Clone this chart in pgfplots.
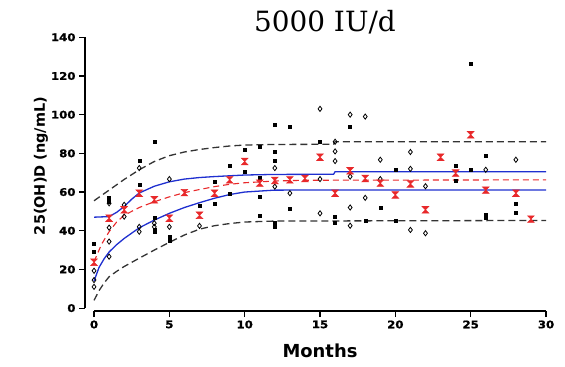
\documentclass[border=0pt]{standalone}
\usepackage{pgfplots}
\pgfplotsset{compat=1.18}
\usepackage{fontspec}
\setmainfont{DejaVu Sans}
\newfontfamily\tickfont[FakeStretch=1.12, BoldFeatures={FakeBold=1.2}]{DejaVu Sans}
\newfontfamily\titlefont{DejaVu Serif}
\definecolor{mred}{HTML}{E8282A}
\definecolor{mblue}{HTML}{1F2FD0}
\definecolor{mdash}{HTML}{333333}
\pgfdeclareplotmark{hourglass}{%
  \pgfpathmoveto{\pgfqpoint{-\pgfplotmarksize}{\pgfplotmarksize}}%
  \pgfpathlineto{\pgfqpoint{\pgfplotmarksize}{\pgfplotmarksize}}%
  \pgfpathlineto{\pgfqpoint{-\pgfplotmarksize}{-\pgfplotmarksize}}%
  \pgfpathlineto{\pgfqpoint{\pgfplotmarksize}{-\pgfplotmarksize}}%
  \pgfpathclose
  \pgfusepathqfillstroke
}
\begin{document}
\begin{tikzpicture}
\useasboundingbox (0,0) rectangle (565bp,367bp);
\begin{axis}[
  at={(85bp,56bp)}, anchor=south west,
  scale only axis, width=461bp, height=273.7bp,
  xmin=-0.6, xmax=30, ymin=-1.5, ymax=140,
  axis lines*=left,
  axis line style={draw=none},
  xtick={0,5,10,15,20,25,30},
  ytick={0,20,40,60,80,100,120,140},
  tick align=outside, major tick length=6bp,
  tick style={black, line width=1.1bp},
  /pgf/number format/assume math mode=true,
  tick label style={font=\tickfont\bfseries\fontsize{10.5}{12}\selectfont},
  clip=false,
]
\draw[line width=1.1bp] (axis cs:-0.6,0) -- (axis cs:-0.6,140);
\draw[line width=1.1bp] (axis cs:0,-1.5) -- (axis cs:30,-1.5);
% fitted curves
\addplot[mdash, line width=1.3bp, dash pattern=on 7bp off 4bp] coordinates {
(0,55.5)(1,61)(2,66.5)(3,71.5)(4,75.8)(5,78.8)(6,80.7)(7,82)(8,83)(9,83.8)(10,84.3)(12,84.6)(15.9,84.7)(16,86)(30,86)};
\addplot[mdash, line width=1.3bp, dash pattern=on 7bp off 4bp] coordinates {
(0,4)(0.33,9)(0.67,13)(1,16.2)(1.5,19)(2,21.5)(3,25.8)(4,30)(5,34)(6,37.8)(7,40.8)(8,42.6)(9,43.7)(10,44.5)(12,45)(30,45.3)};
\addplot[mblue, line width=1.3bp] coordinates {
(0,47)(1,47.3)(1.5,49.5)(2,52.5)(2.5,56.3)(3,59.5)(4,63)(5,65.3)(6,66.7)(7,67.5)(8,68)(10,68.8)(12,69.1)(15.9,69.2)(16,70.5)(30,70.5)};
\addplot[mblue, line width=1.3bp] coordinates {
(0,14)(0.33,21)(0.67,25.5)(1,29)(1.5,32.8)(2,36)(3,41.5)(4,45.5)(5,49)(6,52)(7,54.5)(8,56.8)(9,58.7)(10,60)(12,61)(30,61.1)};
\addplot[mred, line width=1.1bp, dash pattern=on 6bp off 4bp] coordinates {
(0,24)(0.5,33)(1,39.5)(1.5,44.5)(2,48)(3,52)(4,55)(5,57.5)(6,59.7)(7,61.3)(8,62.8)(9,64)(10,64.8)(12,65.7)(14,66.1)(30,66.3)};
% filled squares
\addplot[only marks, mark=square*, mark size=1.5bp, black] coordinates {
(0,33.5)(0,29)(1,57)(1,55)(3,76)(3,64)(4,86)(4,46.5)(4,40.5)(4,39.5)(5,37)(5,34.7)
(7,53)(8,65.5)(8,54.2)(9,73.6)(9,59)(10,82)(10,70.6)(11,83.6)(11,67.5)(11,57.7)(11,47.6)
(12,95)(12,81)(12,76)(12,44)(12,42)(13,94)(13,51.6)(15,86)(16,47)(16,44)(17,94)
(18,45)(19,52)(20,71.5)(20,45)(24,73.6)(24,66)(25,71.5)(25,126.5)(26,79)(26,48.5)(26,46.5)
(28,54)(28,49.4)};
% open diamonds
\addplot[only marks, mark=diamond, mark size=2.6bp, black, line width=0.8bp] coordinates {
(0,19.3)(0,14.5)(0,11)(1,54.2)(1,41.6)(1,34.4)(1,26.6)(2,53.4)(2,47.3)(3,72.4)(3,42)(3,39.5)
(4,43.9)(4,42)(5,66.7)(5,42)(7,42.5)(12,72.4)(12,62.8)(13,59.4)(15,103)(15,66.7)(15,49)
(16,86)(16,81)(16,76)(17,100)(17,68)(17,52)(17,42.6)(18,99)(18,57)(19,76.7)(19,66.7)
(21,80.7)(21,72)(21,40.4)(22,63)(22,38.7)(26,71.5)(28,76.7)};
% means
\addplot[only marks, mark=hourglass, mark size=3.3bp, mred, line width=0.6bp] coordinates {
(0,23.7)(1,46.5)(2,50.8)(3,59.4)(4,56)(5,46.5)(6,59.7)(7,48)(8,59.4)(9,66.3)(10,75.8)
(11,64.6)(12,66)(13,66.3)(14,67)(15,78)(16,59.4)(17,71)(18,67)(19,64.6)(20,58.5)(21,64.2)
(22,50.8)(23,78)(24,69.8)(25,89.6)(26,61)(28,59.4)(29,46)};
\end{axis}
\node[font=\titlefont\fontsize{28}{32}\selectfont] at (325bp,345bp) {5000 IU/d};
\node[font=\bfseries\fontsize{18}{20}\selectfont] at (320bp,16bp) {Months};
\node[font=\bfseries\fontsize{14.5}{16}\selectfont, rotate=90] at (41bp,201bp) {25(OH)D (ng/mL)};
\end{tikzpicture}
\end{document}
